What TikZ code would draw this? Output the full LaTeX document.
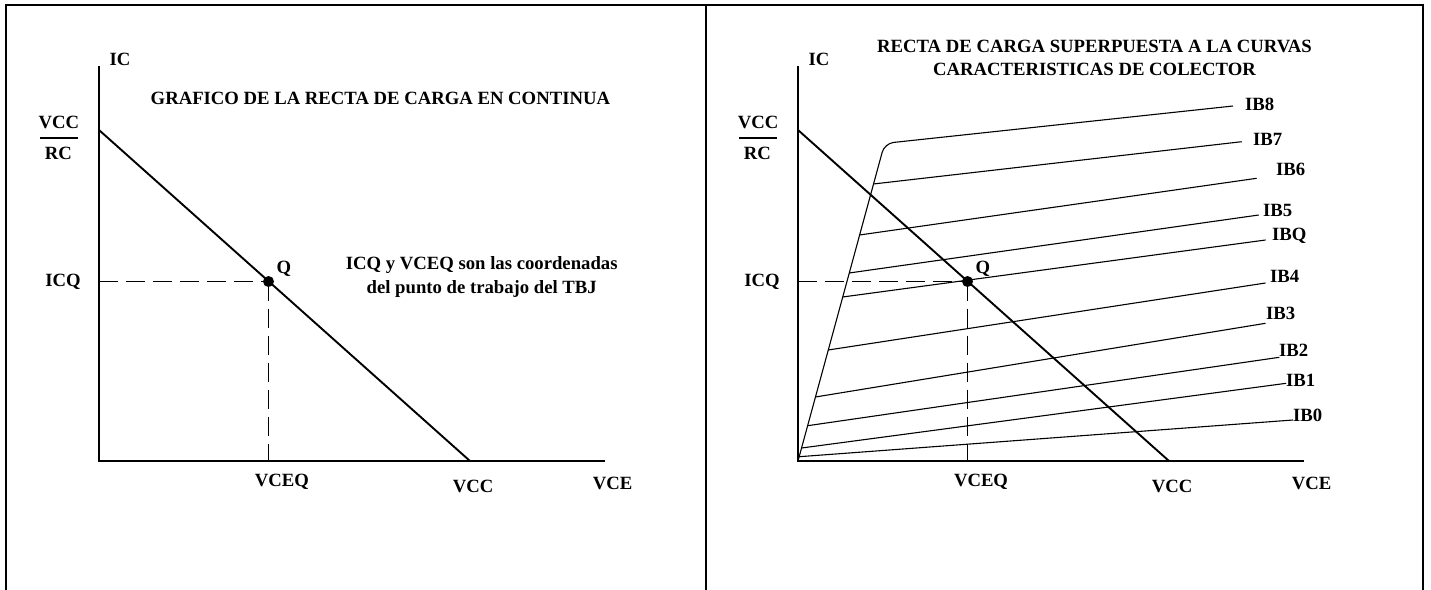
\documentclass[tikz,border=0pt]{standalone}
\usepackage{fontspec}
\setmainfont{Liberation Serif}
\tikzset{
  lbl/.style={font=\bfseries\fontsize{18.7}{22}\selectfont, inner sep=0pt, anchor=base},
  lblw/.style={lbl, anchor=base west},
  axisline/.style={line width=2.4pt},
  loadline/.style={line width=1.9pt},
  guide/.style={line width=1pt, dash pattern=on 19pt off 8pt},
  ibcurve/.style={line width=1.1pt},
  framebox/.style={line width=2pt},
  fracbar/.style={line width=2pt},
  qdot/.style={circle, fill=black, inner sep=0pt, minimum size=11pt},
}
\newcommand\loadpanel[2]{%
\begin{scope}[xshift=#2]
  \coordinate (#1O) at (99,461);
  \coordinate (#1ytop) at (99,66);
  \coordinate (#1xend) at (605,461);
  \coordinate (#1A) at (99,130);
  \coordinate (#1B) at (470,461);
  \coordinate (#1Qc) at (268.5,281.5);
  \coordinate (#1barL) at (40,137.7);
  \coordinate (#1barR) at (78,137.7);
  \draw[axisline] (#1ytop) -- (#1O) -- (#1xend);
  \draw[guide] (#1O |- #1Qc) -- (#1Qc);
  \draw[guide] (#1Qc) -- (#1Qc |- #1O);
  \node[lbl] (#1IC) at (120,65) {IC};
  \node[lbl] (#1VCCn) at (59,128.3) {VCC};
  \draw[fracbar] (#1barL) -- (#1barR);
  \node[lbl] (#1RC) at (58.4,159.3) {RC};
  \node[lbl] (#1ICQ) at (63,286) {ICQ};
  \node[lbl] (#1Qlbl) at (284,273) {Q};
  \node[lbl] (#1VCEQ) at (282,486) {VCEQ};
  \node[lbl] (#1VCC) at (473,492) {VCC};
  \node[lbl] (#1VCE) at (612.5,489) {VCE};
\end{scope}}
\begin{document}
\begin{tikzpicture}[x=1pt,y=-1pt]
  \useasboundingbox (0,0) rectangle (1431,589);
  % frame
  \draw[framebox] (5.5,600) -- (5.5,5) -- (1423,5) -- (1423,600);
  \draw[framebox] (706,5) -- (706,600);
  % left panel
  \loadpanel{L-}{0pt}
  \draw[loadline] (L-A) -- (L-B);
  \node[qdot] (L-Q) at (L-Qc) {};
  \node[lbl] (titleL) at (380.4,104) {GRAFICO DE LA RECTA DE CARGA EN CONTINUA};
  \node[lbl] (noteA) at (481.7,269.3) {ICQ y VCEQ son las coordenadas};
  \node[lbl] (noteB) at (481.7,293.3) {del punto de trabajo del TBJ};
  % right panel
  \loadpanel{R-}{699pt}
  \node[lbl] (titleR1) at (1094.5,52.3) {RECTA DE CARGA SUPERPUESTA A LA CURVAS};
  \node[lbl] (titleR2) at (1094.5,75.7) {CARACTERISTICAS DE COLECTOR};
  \coordinate (corner) at (884.6,143.4);
  \coordinate (rIB8) at (1233,106);
  \draw[ibcurve, rounded corners=9pt] (R-O) -- (corner) -- (rIB8);
  \node[lblw] (tIB8) at (1245,110) {IB8};
  \foreach \nm/\yl/\xr/\yr/\lx/\ly in {
      IB7/184/1241.7/141.7/1253/145,
      IB6/235/1256.7/178.3/1276/175,
      IB5/273/1258.7/215/1263/216,
      IBQ/297/1265.6/240/1272/240,
      IB4/350/1265.5/283/1270/282,
      IB3/397/1265.5/323.3/1266/319.5,
      IB2/425.7/1279.3/357.3/1279/356,
      IB1/448/1286.2/383.3/1286/386,
      IB0/456.7/1293/420/1293/421.7}{
    \coordinate (l\nm) at ({798+(461-\yl)*0.2717},\yl);
    \coordinate (r\nm) at (\xr,\yr);
    \draw[ibcurve] (l\nm) -- (r\nm);
    \node[lblw] (t\nm) at (\lx,\ly) {\nm};
  }
  \draw[loadline] (R-A) -- (R-B);
  \node[qdot] (R-Q) at (R-Qc) {};
\end{tikzpicture}
\end{document}
